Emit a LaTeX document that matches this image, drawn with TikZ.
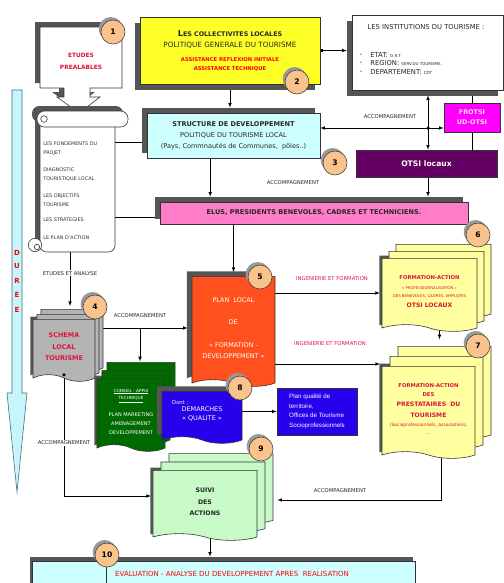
\documentclass[tikz,border=0pt]{standalone}
\usepackage{fontspec}
\setmainfont{DejaVu Sans}
\newfontfamily\arialfont{Liberation Sans}
\usepackage{tikz}
\usetikzlibrary{arrows,arrows.meta,shadows,shapes.symbols,backgrounds}
\definecolor{shgray}{RGB}{85,85,85}
\definecolor{jaune}{RGB}{255,255,40}
\definecolor{cyanclair}{RGB}{205,255,255}
\definecolor{rose}{RGB}{255,125,200}
\definecolor{magenta2}{RGB}{255,0,255}
\definecolor{rosepale}{RGB}{255,215,255}
\definecolor{violet2}{RGB}{100,0,100}
\definecolor{orange2}{RGB}{255,80,30}
\definecolor{grisdoc}{RGB}{180,180,180}
\definecolor{vertfonce}{RGB}{0,105,0}
\definecolor{bleu}{RGB}{40,0,235}
\definecolor{jaunepale}{RGB}{255,255,160}
\definecolor{vertpale}{RGB}{200,250,200}
\definecolor{peche}{RGB}{250,195,140}
\definecolor{cramoisi}{RGB}{220,20,60}
\definecolor{dureefill}{RGB}{200,245,250}
\definecolor{dureeline}{RGB}{60,110,130}
\tikzstyle{box}=[rectangle, draw=black!80, line width=0.5pt, inner sep=1pt, align=center, text=black!85]
\tikzstyle{doc}=[tape, tape bend top=none, tape bend bottom=out and in, tape bend height=0.2cm, draw=black!80, line width=0.5pt, inner sep=1pt, align=center]
\tikzstyle{badge}=[circle, draw=black!75, fill=peche, minimum size=0.72cm, inner sep=0pt, font=\fontsize{6.5}{7}\selectfont\bfseries, drop shadow={shadow xshift=-0.07cm, shadow yshift=0.09cm, fill=black!40, opacity=1}]
\tikzstyle{shadowUL}=[drop shadow={shadow xshift=-0.15cm, shadow yshift=0.15cm, fill=shgray, opacity=1}]
\tikzstyle{shadowDL}=[drop shadow={shadow xshift=-0.15cm, shadow yshift=-0.17cm, fill=shgray, opacity=1}]
\tikzstyle{shadowS}=[drop shadow={shadow xshift=-0.08cm, shadow yshift=0.08cm, fill=shgray, opacity=1}]
\tikzstyle{acclabel}=[font=\fontsize{4.5}{5}\selectfont, text=black!85, inner sep=1pt]
\tikzstyle{ingtext}=[acclabel, text=cramoisi]
\tikzstyle{dureetext}=[font=\fontsize{6}{7}\selectfont\bfseries, text=red, inner sep=0pt]
\tikzstyle{scrolltext}=[font=\fontsize{4.2}{5}\selectfont, text=black!80, inner sep=0pt, anchor=west]
\tikzstyle{insttext}=[font=\fontsize{5.8}{7}\selectfont, text=black!85, inner sep=0pt]
\tikzset{stack/.style n args={3}{general shadow={shadow xshift=2*#1, shadow yshift=2*#2, fill=#3, draw=black!80, line width=0.5pt}, general shadow={shadow xshift=#1, shadow yshift=#2, fill=#3, draw=black!80, line width=0.5pt}}}
\newcommand{\capsc}[2]{{\fontsize{7}{8}\selectfont #1}#2}
\newcommand{\redline}{\fontsize{4.5}{5}\selectfont\bfseries\color{red}}
\newcommand{\smallul}[1]{{\fontsize{3.6}{4}\selectfont\underline{#1}}}
\newcommand{\ftitle}{\fontsize{4.5}{5}\selectfont\bfseries}
\newcommand{\fbig}{\fontsize{5.2}{6}\selectfont\bfseries}

\begin{document}
\begin{tikzpicture}[x=0.03cm,y=-0.03cm,>=latex,line width=0.5pt]
  \useasboundingbox (0,0) rectangle (504,583);

  % duree
  \draw[fill=dureefill,draw=dureeline] (12,90) -- (22,90) -- (22,393) -- (27,393)
    -- (17,492) -- (7,393) -- (12,393) -- cycle;
  \foreach \l/\y [count=\i] in {D/253,U/266,R/281,E/295,E/310}
    \node[dureetext] (duree\i) at (17,\y) {\l};

  % etudes prealables
  \draw[fill=white,draw=black!80,shadowUL] (40,27) -- (122,27) -- (122,88) -- (90,88)
    -- (90,97) -- (100,97) -- (79,113) -- (57,97) -- (64,97) -- (64,88) -- (40,88) -- cycle;
  \node[align=center,text=cramoisi,font=\fontsize{5}{10.2}\selectfont\bfseries] (etudes)
    at (81,61) {ETUDES\\PREALABLES};

  % parchemin
  \draw[fill=white,draw=black!80,rounded corners=0.2cm,shadowUL] (40,118) rectangle (115,252);
  \draw[fill=white,draw=black!80,rounded corners=0.22cm,shadowUL] (37,111) rectangle (128,127);
  \draw[draw=black!80] (44,119) circle (0.1cm);
  \draw[fill=white,draw=black!80] (35,245) circle (0.2cm);
  \draw[draw=black!80] (37,247) circle (0.08cm);
  \node[minimum width=2.25cm,minimum height=4.02cm] (scroll) at (77.5,185) {};
  \foreach \y/\t [count=\i] in {144/LES FONDEMENTS DU,153/PROJET,170/DIAGNOSTIC,
      179/TOURISTIQUE LOCAL,196/LES OBJECTIFS,205/TOURISME,220/LES STRATEGIES,238/LE PLAN D'ACTION}
    \node[scrolltext] (item\i) at (43,\y) {\t};

  % collectivites
  \node[box,fill=jaune,shadowDL,minimum width=5.4cm,minimum height=2.01cm,
    font=\fontsize{6.2}{9.4}\selectfont] (collect) at (230,50.5)
    {\fontsize{5.4}{9.4}\selectfont\bfseries\capsc{L}{ES COLLECTIVITES LOCALES}\\POLITIQUE GENERALE DU TOURISME\\[2.6pt]
     \redline ASSISTANCE REFLEXION INITIALE\\[-1.7pt]\redline ASSISTANCE TECHNIQUE};

  % institutions
  \node[box,fill=white,shadowDL,minimum width=4.53cm,minimum height=2.25cm] (instit) at (427.5,52.5) {};
  \node[insttext] (institre) at (426,27) {LES INSTITUTIONS DU TOURISME :};
  \foreach \y/\a/\b [count=\i] in {55/ETAT/D.R.T,63/REGION/SERV.DU TOURISME.,72/DEPARTEMENT/CDT}{
    \node[insttext] (tiret\i) at (361,\y) {-};
    \node[insttext,anchor=west] (inst\i) at (370,\y) {\a : {\fontsize{3.4}{4}\selectfont\b}};
  }

  % structure
  \node[box,fill=cyanclair,shadowUL,minimum width=5.19cm,minimum height=1.35cm,
    font=\fontsize{5.6}{9.4}\selectfont] (structure) at (233.5,135.5)
    {\bfseries STRUCTURE DE DEVELOPPEMENT\\POLITIQUE DU TOURISME LOCAL\\(Pays, Commnautés de Communes,~ pôles..)};

  \node[box,fill=magenta2,text=rosepale,minimum width=1.68cm,minimum height=0.87cm,
    font=\fontsize{5.5}{8.5}\selectfont\bfseries] (frotsi) at (472,117.5) {FROTSI\\UD-OTSI};
  \node[box,fill=violet2,text=white,minimum width=4.23cm,minimum height=0.81cm,
    font=\fontsize{6.5}{8}\selectfont\bfseries] (otsi) at (426.5,163.5) {OTSI locaux};
  \node[box,fill=rose,shadowUL,minimum width=9.24cm,minimum height=0.66cm,
    font=\fontsize{5.6}{7}\selectfont\bfseries] (elus) at (314,213)
    {ELUS, PRESIDENTS BENEVOLES, CADRES ET TECHNICIENS.};

  % plan local
  \node[doc,fill=orange2,shadowUL,text=white,minimum width=2.49cm,minimum height=3.3cm,
    font=\fontsize{5.5}{9.4}\selectfont] (plan) at (233.5,328)
    {PLAN~~LOCAL\\[10pt]DE\\[10pt]« FORMATION -\\DEVELOPPEMENT »};

  % documents
  \node[doc,fill=grisdoc,shadowS,stack={0.12cm}{0.15cm}{grisdoc},text=cramoisi,
    minimum width=1.86cm,minimum height=1.86cm,font=\fontsize{5.5}{9.8}\selectfont\bfseries]
    (schema) at (64,347) {SCHEMA\\LOCAL\\TOURISME};
  \node[doc,fill=vertfonce,shadowS,stack={0.15cm}{0.24cm}{vertfonce},text=white,
    minimum width=2.04cm,minimum height=2.19cm,font=\fontsize{4.3}{7.7}\selectfont]
    (green) at (131,411.5) {\smallul{CONSEIL - APPUI}\\[-0.9pt]\smallul{TECHNIQUE}\\[6pt]PLAN MARKETING\\AMENAGEMENT\\DEVELOPPEMENT};
  \node[doc,fill=bleu,shadowUL,text=white,minimum width=2.4cm,minimum height=1.56cm,
    font=\fontsize{5.5}{8.5}\selectfont] (demarches) at (202,414) {DEMARCHES\\« QUALITE »};
  \node[font=\fontsize{4.5}{5}\selectfont,text=white,anchor=west] (dont) at (168,403) {Dont :};
  \node[box,fill=bleu,text=white,align=left,minimum width=2.4cm,minimum height=1.41cm,
    font=\arialfont\fontsize{5.3}{8.1}\selectfont] (qualite) at (317,411.5)
    {Plan qualité de\\territoire,\\Offices de Tourisme\\Socioprofessionnels};
  \node[doc,fill=jaunepale,shadowS,stack={0.21cm}{0.21cm}{jaunepale},text=cramoisi,
    minimum width=2.85cm,minimum height=2.19cm,font=\fontsize{3.3}{7}\selectfont]
    (form6) at (429.5,291.5) {\ftitle FORMATION-ACTION\\[1.5pt]« PROFESSIONNALISATION »\\[-0.2pt]DES BENEVOLES, CADRES, EMPLOYES\\[1.5pt]\fbig OTSI LOCAUX};
  \node[doc,fill=jaunepale,shadowS,stack={0.24cm}{0.3cm}{jaunepale},text=cramoisi,
    minimum width=2.79cm,minimum height=2.76cm,font=\fontsize{3.8}{7.7}\selectfont]
    (form7) at (428.5,409) {\ftitle FORMATION-ACTION\\\ftitle DES\\[0.8pt]\fbig PRESTATAIRES~ DU\\[1.7pt]\fbig TOURISME\\(Socioprofessionnels, associations,\\[-0.9pt]...};
  \node[doc,fill=vertpale,shadowS,stack={0.24cm}{0.25cm}{vertpale},text=black!85,
    minimum width=3.12cm,minimum height=2.1cm,font=\fontsize{5.3}{9.8}\selectfont\bfseries]
    (suivi) at (205,502) {SUIVI\\DES\\ACTIONS};

  % evaluation
  \node[box,fill=cyanclair,drop shadow={shadow xshift=-0.06cm,shadow yshift=0.12cm,fill=shgray,opacity=1},
    minimum width=11.49cm,minimum height=0.78cm] (eval) at (223.5,574) {};
  \draw[draw=black!80] ([xshift=2.25cm]eval.north west) -- ([xshift=2.25cm]eval.south west);
  \node[font=\fontsize{6}{7}\selectfont,text=red,anchor=west] (evaltext) at (111,574)
    {EVALUATION - ANALYSE DU DEVELOPPEMENT APRES~ REALISATION};

  % libelles
  \node[acclabel] (acc1) at (390,117) {ACCOMPAGNEMENT};
  \node[acclabel] (acc2) at (293,183) {ACCOMPAGNEMENT};
  \node[acclabel] (acc3) at (140,316) {ACCOMPAGNEMENT};
  \node[acclabel] (acc5) at (340,491) {ACCOMPAGNEMENT};
  \node[ingtext] (ing1) at (332,279) {INGENIERIE ET FORMATION};
  \node[ingtext] (ing2) at (330,344) {INGENIERIE ET FORMATION};

  % points de passage
  \coordinate (jonction) at (428,128);
  \coordinate (schematop) at ([xshift=0.18cm,yshift=0.39cm]schema.north);
  \coordinate (greentop) at ([xshift=0.27cm,yshift=0.5cm]green.north);
  \coordinate (structg) at ([yshift=-0.2cm]structure.west);
  \coordinate (elusg) at ([yshift=-0.12cm]elus.west);
  \coordinate (structb) at ([xshift=-0.7cm]structure.south);
  \coordinate (plan6) at ([yshift=1.05cm]plan.east);
  \coordinate (plan7) at ([yshift=-1.08cm]plan.east);
  \coordinate (form6b) at ([xshift=0.3cm]form6.south);
  \coordinate (form7b) at ([xshift=0.37cm]form7.south);
  \coordinate (suivib) at ([xshift=0.15cm]suivi.south);

  \begin{scope}[on background layer]
    \draw[{Square[length=2pt,width=2pt]}->,shorten >=0.15cm] (collect.east) -- (collect.east -| instit.west);
    \draw[->,shorten >=0.15cm] (collect.south) -- (collect.south |- structure.north);
    \draw (frotsi.north) -- (frotsi.north |- instit.south);
    \draw (frotsi.south) -- (frotsi.south |- otsi.north);
    \draw[->,shorten >=0.15cm] (jonction) -- (jonction |- instit.south);
    \draw[->] (jonction) -- (jonction |- otsi.north);
    \draw[->] (jonction) -- (jonction -| structure.east);
    \draw[->] (jonction) -- (jonction -| frotsi.west);
    \draw[->,shorten >=0.15cm] (jonction |- otsi.south) -- (jonction |- elus.north);
    \draw[->,shorten >=0.15cm] (structb) -- (structb |- elus.north);
    \draw (structg) -- (structg -| scroll.east);
    \draw (elusg) -- (elusg -| scroll.east);
    \draw[->,shorten >=0.12cm] (plan.north |- elus.south) -- (plan.north);
    \draw[->] (schematop |- scroll.south) -- node[acclabel,fill=white,pos=0.39] (etana) {ETUDES ET ANALYSE} (schematop);
    \draw[->,shorten >=0.12cm] (plan.west -| schema.east) -- (plan.west);
    \draw[->] (greentop |- plan.west) -- (greentop);
    \draw[->] (demarches.center |- qualite.west) -- (qualite.west);
    \draw[->,shorten >=0.05cm] (plan6) -- (plan6 -| form6.west);
    \draw[->,shorten >=0.05cm] (plan7) -- (plan7 -| form7.west);
    \draw[->,shorten >=0.8cm] (form6b) -- (form6b |- form7.north);
    \draw[->,shorten >=0.05cm] (schema.south) |- node[acclabel,fill=white,pos=0.28] (acc4) {ACCOMPAGNEMENT} ([yshift=0.18cm]suivi.west);
    \draw[->] (form7b) |- ([xshift=0.6cm,yshift=0.06cm]suivi.east);
    \draw[->,shorten >=0.12cm] (suivib) -- (suivib |- eval.north);
  \end{scope}
  \fill (jonction) circle (1.5pt);
  \fill (schema.south) circle (1.5pt);

  % pastilles
  \foreach \n/\x/\y in {1/113/32,2/297/82,3/335/163,4/95/307,5/260/277,6/478/235,7/478/346,8/240/388,9/261/449,10/107/555}
    \node[badge] (badge\n) at (\x,\y) {\n};
\end{tikzpicture}
\end{document}
